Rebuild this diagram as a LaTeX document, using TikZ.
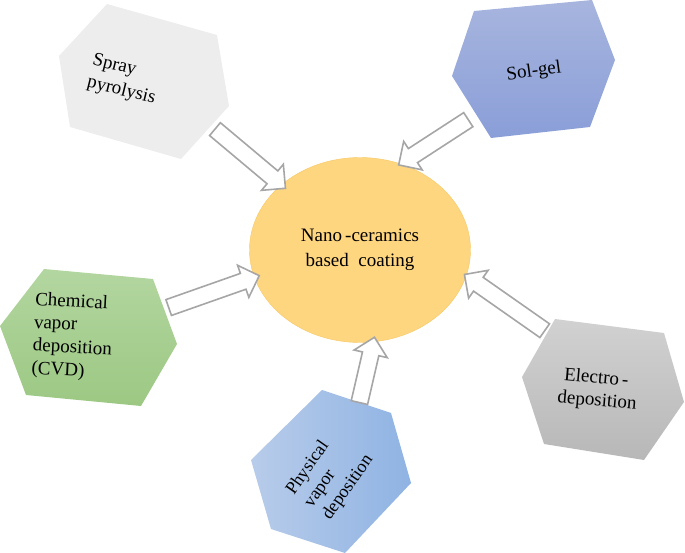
\documentclass[tikz,border=0pt]{standalone}
\usepackage{fontspec}
\setmainfont{Liberation Serif}
\usetikzlibrary{shapes.arrows,shapes.geometric}
\definecolor{arrowgray}{HTML}{A6A6A6}
\definecolor{corefill}{RGB}{255,214,128}
\definecolor{coredraw}{RGB}{245,200,100}
\definecolor{solA}{HTML}{A7B5DE}
\definecolor{solB}{HTML}{8A9ED8}
\definecolor{cvdA}{HTML}{B3D6A0}
\definecolor{cvdB}{HTML}{9CC883}
\definecolor{pvdA}{HTML}{B8CCEA}
\definecolor{pvdB}{HTML}{8FB3E3}
\tikzset{
  barrow/.style={single arrow, draw=arrowgray, fill=white, line width=1.6pt,
    minimum width=34pt, inner sep=7pt, single arrow head extend=8pt, single arrow tip angle=90},
  lbl/.style={font=\fontsize{19}{23}\selectfont, align=left}
}
\begin{document}
\begin{tikzpicture}[x=1pt,y=-1pt]
\useasboundingbox (0,0) rectangle (685,553);
% hexagons
\fill[color=black!7] (59,56)--(107,4)--(217,35)--(229,106)--(181,159)--(70,127)--cycle;
\shade[top color=solA, bottom color=solB] (474,11)--(592,0)--(615,60)--(590,127)--(491,138)--(452,76)--cycle;
\shade[top color=cvdA, bottom color=cvdB] (44,269)--(153,279)--(177,344)--(141,406)--(26,395)--(0,326)--cycle;
\shade[left color=pvdA, right color=pvdB] (322,390)--(391,413)--(411,483)--(345,553)--(271,529)--(251,460)--cycle;
\shade[top color=black!18, bottom color=black!28] (555,319)--(664,333)--(684,402)--(644,460)--(544,444)--(522,377)--cycle;
% centre
\node[ellipse, minimum width=221pt, minimum height=185pt, fill=corefill, draw=coredraw, inner sep=0pt, align=center, font=\fontsize{19}{25}\selectfont] (core) at (360,250) {Nano\,-ceramics\\based\ \ coating};
% labels
\node[lbl, rotate=-14] (spray) at (124,80) {Spray\\pyrolysis};
\node[lbl, rotate=8] (solgel) at (534,72) {Sol-gel};
\node[lbl, rotate=-3] (cvd) at (73,337) {Chemical\\vapor\\deposition\\(CVD)};
\node[lbl, rotate=55, font=\fontsize{18}{22}\selectfont] (pvd) at (330,475) {Physical\\vapor\\deposition};
\node[lbl, rotate=-5] (electro) at (598,390) {\ Electro\,-\\deposition};
% arrows
\node[barrow, minimum height=92pt, rotate=-40] (a1) at (247,156) {};
\node[barrow, minimum height=83pt, rotate=-147] (a2) at (437,140) {};
\node[barrow, minimum height=96pt, rotate=19.4] (a3) at (210,293) {};
\node[barrow, minimum height=67pt, rotate=77] (a4) at (366,374) {};
\node[barrow, minimum height=98pt, rotate=145] (a5) at (508,305) {};
\end{tikzpicture}
\end{document}
